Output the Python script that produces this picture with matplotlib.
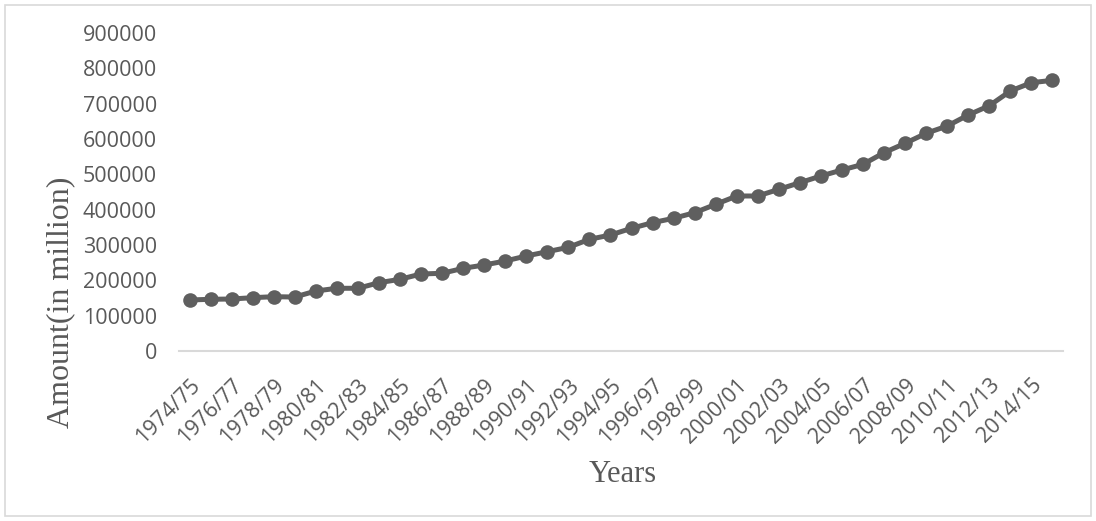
import numpy as np
import matplotlib.pyplot as plt
from matplotlib.patches import Rectangle

# fiscal years 1974/75 .. 2015/16
years = [f"{y}/{(y + 1) % 100:02d}" for y in range(1974, 2016)]

# amount in million
amount = [144400, 146300, 147200, 150900, 153700, 152800, 169800, 177500,
          177500, 193300, 202900, 218000, 219900, 234000, 243400, 254700,
          268900, 281100, 293500, 316100, 328300, 347300, 363200, 375600,
          391500, 415100, 438700, 438700, 457600, 476400, 495300, 512300,
          528400, 561300, 587900, 616200, 636800, 668000, 694300, 735900,
          759400, 766000]

yticks = list(range(0, 900001, 100000))

line_color = '#5f5f5f'
text_gray = '#595959'
tick_font = 'Open Sans'
label_font = 'Liberation Serif'

fig = plt.figure(figsize=(10.96, 5.21), dpi=100)
ax = fig.add_axes([179 / 1096, 1 - 351 / 521, (1063 - 179) / 1096, (351 - 33) / 521])

x = np.arange(len(years))
ax.plot(x, amount, '-o', color=line_color, linewidth=3.6, markersize=10.5,
        markeredgewidth=0, clip_on=False)

ax.set_xlim(-0.5, len(years) - 0.5)
ax.set_ylim(0, 900000)

ax.set_yticks(yticks)
ax.set_yticklabels([str(v) for v in yticks], fontfamily=tick_font,
                   fontsize=15.5, color=text_gray)
ax.set_xticks(x[::2])
ax.set_xticklabels(years[::2], rotation=45, ha='right', rotation_mode='anchor',
                   fontfamily=tick_font, fontsize=15.5, color=text_gray)

ax.tick_params(axis='y', length=0, pad=16)
ax.tick_params(axis='x', length=0, pad=17)

for side in ['top', 'right', 'left']:
    ax.spines[side].set_visible(False)
ax.spines['bottom'].set_color('#d9d9d9')
ax.spines['bottom'].set_linewidth(1.5)

fig.text(61 / 1096, 1 - 302 / 521, 'Amount(in million)', rotation=90,
         ha='center', va='center', fontfamily=label_font, fontsize=23,
         color=text_gray)
fig.text(623 / 1096, 1 - 475 / 521, 'Years', ha='center', va='center',
         fontfamily=label_font, fontsize=22, color=text_gray)

# light chart-area border
fig.patches.append(Rectangle((5 / 1096, 5 / 521), 1 - 10 / 1096, 1 - 10 / 521,
                             transform=fig.transFigure, fill=False,
                             edgecolor='#d9d9d9', linewidth=1.2))

fig.savefig('out.png', dpi=100)
